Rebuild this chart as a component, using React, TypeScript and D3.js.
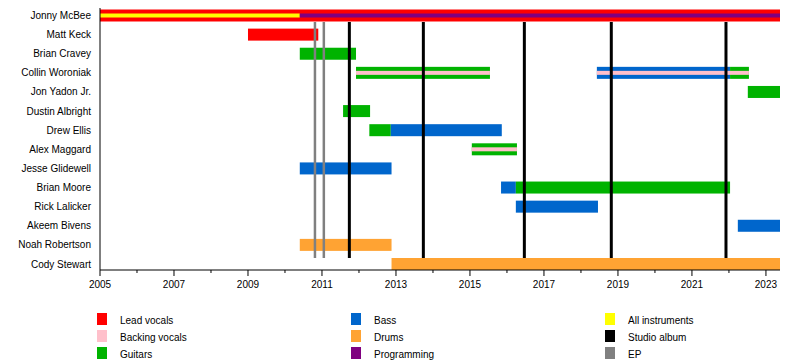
import * as d3 from "d3";

// band members, top to bottom
const members = [
  "Jonny McBee",
  "Matt Keck",
  "Brian Cravey",
  "Collin Woroniak",
  "Jon Yadon Jr.",
  "Dustin Albright",
  "Drew Ellis",
  "Alex Maggard",
  "Jesse Glidewell",
  "Brian Moore",
  "Rick Lalicker",
  "Akeem Bivens",
  "Noah Robertson",
  "Cody Stewart",
];

const START = 2005;
const END = 2023.38;

// [member, role, from, to]
const periods: [string, string, number, number][] = [
  ["Jonny McBee", "Lead vocals", START, END],
  ["Matt Keck", "Lead vocals", 2009.0, 2010.9],
  ["Brian Cravey", "Guitars", 2010.4, 2011.92],
  ["Collin Woroniak", "Guitars", 2011.92, 2015.54],
  ["Collin Woroniak", "Bass", 2018.43, 2022.03],
  ["Collin Woroniak", "Guitars", 2022.03, 2022.54],
  ["Jon Yadon Jr.", "Guitars", 2022.51, END],
  ["Dustin Albright", "Guitars", 2011.57, 2012.3],
  ["Drew Ellis", "Guitars", 2012.28, 2012.86],
  ["Drew Ellis", "Bass", 2012.86, 2015.86],
  ["Alex Maggard", "Guitars", 2015.05, 2016.27],
  ["Jesse Glidewell", "Bass", 2010.4, 2012.88],
  ["Brian Moore", "Bass", 2015.84, 2016.24],
  ["Brian Moore", "Guitars", 2016.24, 2022.03],
  ["Rick Lalicker", "Bass", 2016.24, 2018.46],
  ["Akeem Bivens", "Bass", 2022.24, END],
  ["Noah Robertson", "Drums", 2010.4, 2012.88],
  ["Cody Stewart", "Drums", 2012.88, END],
];

// secondary roles drawn as a thin stripe inside the bar
const stripes: [string, string, number, number][] = [
  ["Jonny McBee", "All instruments", START, 2010.4],
  ["Jonny McBee", "Programming", 2010.4, END],
  ["Collin Woroniak", "Backing vocals", 2011.92, 2015.54],
  ["Collin Woroniak", "Backing vocals", 2018.43, 2022.54],
  ["Alex Maggard", "Backing vocals", 2015.05, 2016.27],
];

const studioAlbums = [2011.74, 2013.74, 2016.47, 2018.82, 2021.92];
const eps = [2010.81, 2011.05];

const tickYears = d3.range(2005, 2024);

const legendItems = [
  "Lead vocals",
  "Backing vocals",
  "Guitars",
  "Bass",
  "Drums",
  "Programming",
  "All instruments",
  "Studio album",
  "EP",
];

const colors: Record<string, string> = {
  "Lead vocals": "#ff0000",
  "Backing vocals": "#ffc0cb",
  Guitars: "#00b300",
  Bass: "#0066cc",
  Drums: "#ffa333",
  Programming: "#800080",
  "All instruments": "#ffff00",
  "Studio album": "#000000",
  EP: "#808080",
};

const font = "'Liberation Sans', Arial, sans-serif";

export default function App() {
  const width = 800;
  const height = 360;

  const x = d3.scaleLinear().domain([START, END]).range([100, 780]);
  const y = d3.scalePoint<string>().domain(members).range([15.5, 264]);
  const barH = 12;
  const stripeH = 4;
  const axisY = 270;

  return (
    <svg
      width={width}
      height={height}
      style={{ position: "absolute", left: 0, top: 0, background: "#fff" }}
      fontFamily={font}
    >
      {/* member labels */}
      {members.map((m) => (
        <text
          key={m}
          x={91}
          y={(y(m) ?? 0) + 3.5}
          textAnchor="end"
          fontSize={10}
          fill="#000"
        >
          {m}
        </text>
      ))}

      {/* bars */}
      {periods.map(([m, role, a, b], i) => (
        <rect
          key={"p" + i}
          x={x(a)}
          y={(y(m) ?? 0) - barH / 2}
          width={x(b) - x(a)}
          height={barH}
          fill={colors[role]}
        />
      ))}
      {stripes.map(([m, role, a, b], i) => (
        <rect
          key={"s" + i}
          x={x(a)}
          y={(y(m) ?? 0) - stripeH / 2}
          width={x(b) - x(a)}
          height={stripeH}
          fill={colors[role]}
        />
      ))}

      {/* release lines */}
      {eps.map((d) => (
        <line
          key={"ep" + d}
          x1={x(d)}
          x2={x(d)}
          y1={22}
          y2={258}
          stroke={colors["EP"]}
          strokeWidth={2.5}
        />
      ))}
      {studioAlbums.map((d) => (
        <line
          key={"sa" + d}
          x1={x(d)}
          x2={x(d)}
          y1={22}
          y2={258}
          stroke={colors["Studio album"]}
          strokeWidth={3}
        />
      ))}

      {/* axes */}
      <line x1={x(START)} x2={x(START)} y1={8} y2={axisY} stroke="#000" strokeWidth={1} />
      <line x1={x(START)} x2={x(END)} y1={axisY} y2={axisY} stroke="#000" strokeWidth={1} />
      {tickYears.map((t) => {
        const major = (t - 2005) % 2 === 0;
        return (
          <g key={t}>
            <line
              x1={x(t)}
              x2={x(t)}
              y1={axisY}
              y2={axisY + (major ? 6 : 3)}
              stroke="#000"
              strokeWidth={1}
            />
            {major && (
              <text x={x(t)} y={axisY + 18} textAnchor="middle" fontSize={10} fill="#000">
                {t}
              </text>
            )}
          </g>
        );
      })}

      {/* legend */}
      {legendItems.map((name, i) => {
        const col = Math.floor(i / 3);
        const row = i % 3;
        const lx = 97 + col * 254;
        const ly = 313 + row * 17;
        return (
          <g key={name}>
            <rect x={lx} y={ly} width={10} height={12} fill={colors[name]} />
            <text x={lx + 23} y={ly + 10.5} fontSize={10} fill="#000">
              {name}
            </text>
          </g>
        );
      })}
    </svg>
  );
}
